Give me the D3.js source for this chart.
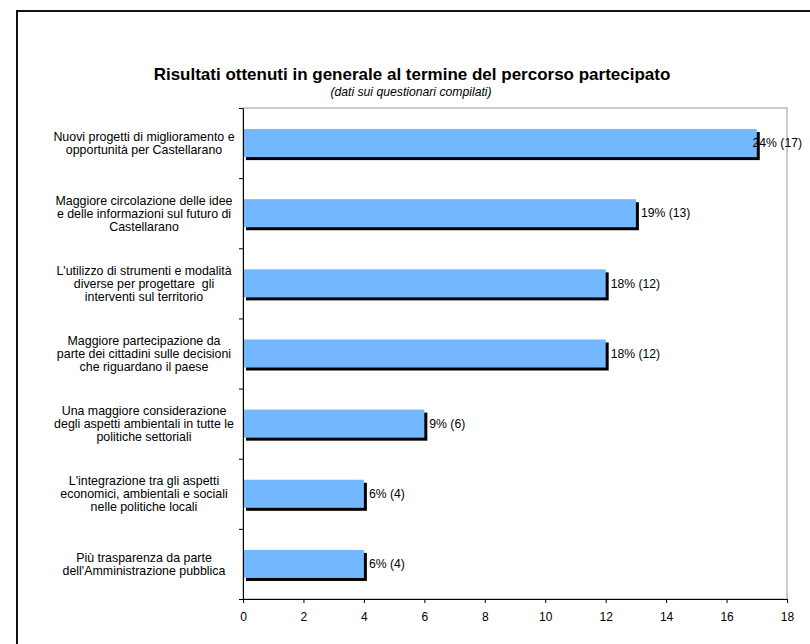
<!DOCTYPE html>
<html>
<head>
<meta charset="utf-8">
<script src="https://cdn.jsdelivr.net/npm/d3@7"></script>
<style>
  html, body { margin: 0; padding: 0; background: #fff; }
  svg { display: block; font-family: "Liberation Sans", Arial, sans-serif; }
</style>
</head>
<body>
<svg id="chart" width="810" height="644"></svg>
<script>
// Category labels, already broken into lines as they appear on the axis
const categories = [
  ["Nuovi progetti di miglioramento e", "opportunità per Castellarano"],
  ["Maggiore circolazione delle idee", "e delle informazioni sul futuro di", "Castellarano"],
  ["L'utilizzo di strumenti e modalità", "diverse per progettare  gli", "interventi sul territorio"],
  ["Maggiore partecipazione da", "parte dei cittadini sulle decisioni", "che riguardano il paese"],
  ["Una maggiore considerazione", "degli aspetti ambientali in tutte le", "politiche settoriali"],
  ["L'integrazione tra gli aspetti", "economici, ambientali e sociali", "nelle politiche locali"],
  ["Più trasparenza da parte", "dell'Amministrazione pubblica"]
];
// Number of answers per result and share of questionnaires (%)
const counts = [17, 13, 12, 12, 6, 4, 4];
const percents = [24, 19, 18, 18, 9, 6, 6];
const xTicks = [0, 2, 4, 6, 8, 10, 12, 14, 16, 18];

const title = "Risultati ottenuti in generale al termine del percorso partecipato";
const subtitle = "(dati sui questionari compilati)";

const svg = d3.select("#chart");
const plot = { left: 243, right: 787, top: 108, bottom: 599 };

const idx = d3.range(categories.length);
const x = d3.scaleLinear().domain([0, 18]).range([plot.left, plot.right]);
const y = d3.scaleBand().domain(idx).range([plot.top, plot.bottom])
  .paddingInner(0.6).paddingOuter(0.3);
// boundaries between categories, used for the tick marks on the left axis
const yEdges = d3.scaleLinear().domain([0, categories.length]).range([plot.top, plot.bottom]);

// outer frame of the chart
svg.append("rect")
  .attr("x", 17).attr("y", 11).attr("width", 830).attr("height", 670)
  .attr("fill", "none").attr("stroke", "#111").attr("stroke-width", 2);

// titles
svg.append("text")
  .attr("x", 412).attr("y", 80)
  .attr("text-anchor", "middle")
  .attr("font-size", 17).attr("font-weight", "bold")
  .attr("fill", "#000")
  .text(title);
svg.append("text")
  .attr("x", 411).attr("y", 96)
  .attr("text-anchor", "middle")
  .attr("font-size", 12.2).attr("font-style", "italic")
  .attr("fill", "#000")
  .text(subtitle);

// plot area border
svg.append("rect")
  .attr("x", plot.left).attr("y", plot.top)
  .attr("width", plot.right - plot.left).attr("height", plot.bottom - plot.top)
  .attr("fill", "#fff").attr("stroke", "#9a9a9a").attr("stroke-width", 1);

// bars: black drop shadow underneath, blue bar on top
const bars = svg.append("g");
bars.selectAll("rect.shadow")
  .data(idx).join("rect")
  .attr("class", "shadow")
  .attr("x", x(0) + 3)
  .attr("y", i => y(i) + 3)
  .attr("width", i => x(counts[i]) - x(0))
  .attr("height", y.bandwidth())
  .attr("fill", "#000");
bars.selectAll("rect.bar")
  .data(idx).join("rect")
  .attr("class", "bar")
  .attr("x", x(0))
  .attr("y", i => y(i))
  .attr("width", i => x(counts[i]) - x(0))
  .attr("height", y.bandwidth())
  .attr("fill", "#73b7ff");

// x axis
const xAxis = svg.append("g")
  .attr("transform", `translate(0,${plot.bottom})`)
  .call(d3.axisBottom(x).tickValues(xTicks).tickSize(4).tickSizeOuter(0).tickPadding(9));
xAxis.select(".domain").attr("stroke", "#000");
xAxis.selectAll(".tick line").attr("stroke", "#000");
xAxis.selectAll(".tick text")
  .attr("font-size", 12).attr("font-family", "Liberation Sans, Arial, sans-serif")
  .attr("fill", "#000");

// y axis: tick marks at the category boundaries
const yAxis = svg.append("g")
  .attr("transform", `translate(${plot.left},0)`)
  .call(d3.axisLeft(yEdges).tickValues(d3.range(categories.length + 1))
    .tickFormat("").tickSize(4).tickSizeOuter(0));
yAxis.select(".domain").attr("stroke", "#000");
yAxis.selectAll(".tick line").attr("stroke", "#000");

// category labels
const lineH = 13;
const labelX = 144;
const catLabels = svg.append("g")
  .attr("font-size", 12.4).attr("fill", "#000").attr("text-anchor", "middle");
idx.forEach(i => {
  const lines = categories[i];
  const cy = y(i) + y.bandwidth() / 2;
  const t = catLabels.append("text")
    .attr("x", labelX)
    .attr("y", cy - (lines.length - 1) * lineH / 2)
    .style("white-space", "pre");
  lines.forEach((ln, k) => {
    t.append("tspan").attr("x", labelX).attr("dy", k === 0 ? "0.35em" : lineH).text(ln);
  });
});

// value labels: "pct% (count)" just after each bar, kept inside the chart frame
const valLabels = svg.append("g").attr("font-size", 12.2).attr("fill", "#000");
idx.forEach(i => {
  const t = valLabels.append("text")
    .attr("y", y(i) + y.bandwidth() / 2)
    .attr("dy", "0.35em")
    .text(`${percents[i]}% (${counts[i]})`);
  const w = t.node().getComputedTextLength();
  let tx = x(counts[i]) + 5;
  if (tx + w > 802) tx = 802 - w;
  t.attr("x", tx);
});
</script>
</body>
</html>
